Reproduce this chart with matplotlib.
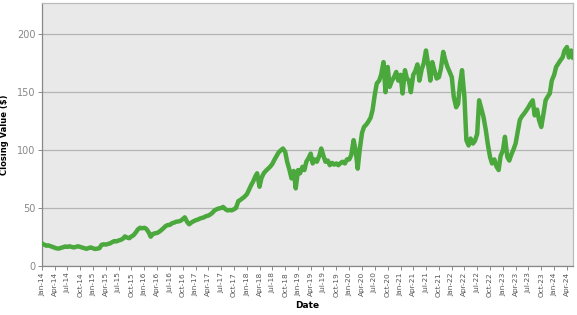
import matplotlib
matplotlib.use("Agg")
import matplotlib.pyplot as plt
import matplotlib.dates as mdates
import pandas as pd
import numpy as np

# Semi-monthly closing values (1st and 15th of each month)
v2014 = [19.5, 18.5, 17.5, 17.8, 17.2, 16.5, 15.8, 15.2, 15.0, 15.6, 16.2, 16.8,
         16.5, 17.0, 16.4, 16.0, 16.6, 17.0, 16.4, 15.8, 15.2, 14.8, 15.6, 16.0]
v2015 = [15.2, 14.7, 15.0, 15.4, 18.2, 18.7, 18.5, 19.0, 19.5, 20.5, 21.5, 21.2,
         22.0, 22.5, 23.5, 25.5, 24.5, 24.0, 25.5, 26.5, 29.0, 31.5, 33.0, 32.5]
v2016 = [33.0, 32.0, 29.0, 25.3, 27.5, 28.2, 28.5, 29.5, 31.0, 32.5, 34.5, 35.3,
         35.5, 36.8, 37.5, 38.2, 38.5, 39.0, 40.5, 42.0, 38.0, 36.0, 37.5, 38.5]
v2017 = [39.5, 40.0, 41.0, 41.5, 42.0, 43.0, 43.5, 44.5, 46.0, 48.0, 49.0, 49.7,
         50.0, 51.0, 49.0, 48.0, 48.3, 48.0, 49.0, 50.0, 56.0, 57.0, 58.5, 59.8]
v2018 = [62.0, 65.5, 70.0, 73.0, 77.0, 80.0, 68.4, 76.0, 80.0, 82.0, 84.0, 85.6,
         88.0, 91.4, 95.0, 98.0, 100.0, 101.4, 98.6, 90.0, 82.8, 75.6, 82.0, 67.0]
v2019 = [82.8, 80.0, 85.6, 82.8, 90.0, 92.8, 97.0, 88.5, 92.0, 90.0, 95.0, 101.4,
         95.0, 90.0, 91.0, 87.0, 89.0, 87.5, 88.5, 87.0, 89.0, 90.0, 88.5, 92.0]
v2020 = [92.0, 95.7, 108.6, 100.0, 84.0, 100.0, 115.0, 120.0, 122.0, 124.4, 128.0, 134.5,
         148.0, 157.5, 160.0, 165.0, 176.0, 150.0, 171.8, 154.6, 160.0, 163.0, 167.5, 160.0]
v2021 = [165.0, 148.9, 169.0, 162.0, 160.0, 150.0, 165.0, 168.0, 174.0, 160.0, 170.0, 175.0,
         186.0, 175.0, 160.0, 176.0, 168.0, 161.8, 163.0, 170.0, 184.8, 178.0, 171.8, 168.0]
v2022 = [163.0, 146.0, 137.0, 140.0, 157.5, 169.0, 146.0, 108.6, 104.0, 110.0, 105.7, 108.0,
         114.0, 143.0, 135.0, 128.7, 117.0, 105.0, 94.0, 88.5, 92.0, 86.0, 82.8, 95.0]
v2023 = [100.0, 111.5, 94.0, 91.0, 96.0, 100.0, 105.7, 115.0, 126.0, 129.0, 131.6, 134.0,
         137.0, 140.0, 143.0, 130.0, 135.0, 126.0, 120.0, 130.0, 143.0, 146.0, 149.0, 160.0]
v2024 = [165.0, 171.8, 175.0, 177.6, 180.0, 186.0, 189.0, 180.0, 186.0, 180.0]

values = v2014 + v2015 + v2016 + v2017 + v2018 + v2019 + v2020 + v2021 + v2022 + v2023 + v2024
dates = pd.date_range("2014-01-01", periods=len(values), freq="SMS")

yticks = [0, 50, 100, 150, 200]

fig = plt.figure(figsize=(5.77, 3.15), dpi=100)
ax = fig.add_axes([0.0728, 0.1556, 0.9202, 0.8349])
ax.set_facecolor("#e9e9e9")

ax.plot(dates, values, color="#4aa83c", linewidth=3.2, solid_joinstyle="round", zorder=3)

ax.set_ylim(0, 227)
ax.set_xlim(pd.Timestamp("2014-01-01"), pd.Timestamp("2024-05-14"))
ax.set_yticks(yticks)
ax.yaxis.grid(True, color="#b4b4b4", linewidth=0.9)
ax.set_axisbelow(True)

ax.xaxis.set_major_locator(mdates.MonthLocator(bymonth=[1, 4, 7, 10]))
ax.xaxis.set_major_formatter(mdates.DateFormatter("%b-%y"))
plt.setp(ax.get_xticklabels(), rotation=90, fontsize=5.3, color="#555555")
plt.setp(ax.get_yticklabels(), fontsize=7, color="#888888")
ax.tick_params(axis="both", length=3, width=0.6, color="#777777", pad=1.5)

for side in ["left", "bottom"]:
    ax.spines[side].set_color("#888888")
    ax.spines[side].set_linewidth(0.9)
for side in ["top", "right"]:
    ax.spines[side].set_color("#bbbbbb")
    ax.spines[side].set_linewidth(0.9)

ax.set_xlabel("Date", fontsize=6.5, fontweight="bold", labelpad=3)
ax.set_ylabel("Closing Value ($)", fontsize=6, fontweight="bold", labelpad=6)

fig.savefig("out.png", dpi=100)
